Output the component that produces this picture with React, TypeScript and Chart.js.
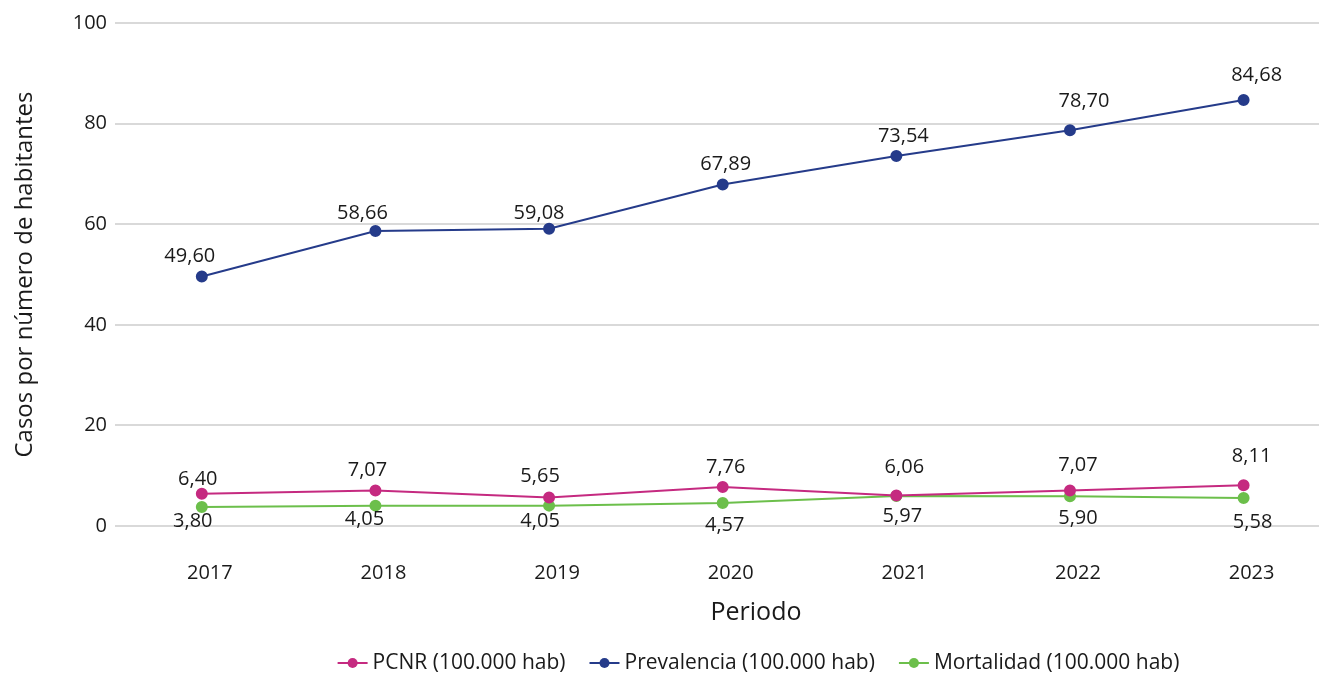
import React, { useEffect, useRef } from "react";
import { Chart, registerables } from "chart.js";

Chart.register(...registerables);

const years = ["2017", "2018", "2019", "2020", "2021", "2022", "2023"];
const pcnr = [6.4, 7.07, 5.65, 7.76, 6.06, 7.07, 8.11];
const prevalencia = [49.6, 58.66, 59.08, 67.89, 73.54, 78.7, 84.68];
const mortalidad = [3.8, 4.05, 4.05, 4.57, 5.97, 5.9, 5.58];
const seriesNames = ["PCNR (100.000 hab)", "Prevalencia (100.000 hab)", "Mortalidad (100.000 hab)"];
const yTicks = [0, 20, 40, 60, 80, 100];
const xTitle = "Periodo";
const yTitle = "Casos por número de habitantes";

const COLORS = ["#C52A80", "#253B8A", "#6CBF4B"];
// label nudges (style only): [dx, dy] per point
const LABEL_NUDGE = [
  [[-4, -15], [-8, -20], [-9, -21], [3, -20], [8, -28], [8, -25], [8, -29]],
  [[-12, -20], [-13, -18], [-10, -16], [3, -20], [7, -20], [14, -29], [13, -25]],
  [[-9, 14], [-11, 14], [-9, 16], [2, 22], [6, 20], [8, 22], [9, 24]],
];
const FONT = "'Open Sans', 'Noto Sans', sans-serif";

const dataLabelPlugin = {
  id: "dataLabels",
  afterDatasetsDraw(chart: any) {
    const ctx = chart.ctx;
    ctx.save();
    ctx.font = `20px ${FONT}`;
    ctx.fillStyle = "#1a1a1a";
    ctx.textAlign = "center";
    ctx.textBaseline = "middle";
    chart.data.datasets.forEach((ds: any, di: number) => {
      const meta = chart.getDatasetMeta(di);
      meta.data.forEach((pt: any, i: number) => {
        const v = ds.data[i].y as number;
        const txt = v.toFixed(2).replace(".", ",");
        const [dx, dy] = LABEL_NUDGE[di][i];
        ctx.fillText(txt, pt.x + dx, pt.y + dy);
      });
    });
    ctx.restore();
  },
};

const legendPlugin = {
  id: "customLegend",
  afterDraw(chart: any) {
    const ctx = chart.ctx;
    ctx.save();
    // x-axis title
    ctx.font = `25px ${FONT}`;
    ctx.fillStyle = "#1a1a1a";
    ctx.textAlign = "center";
    ctx.textBaseline = "middle";
    ctx.fillText(xTitle, 756, 613);

    ctx.font = `21px ${FONT}`;
    ctx.textAlign = "left";
    const lineLen = 30;
    const textGap = 5;
    const itemGap = 24;
    const widths = chart.data.datasets.map((ds: any) => ctx.measureText(ds.label).width);
    const total =
      widths.reduce((a: number, w: number) => a + w + lineLen + textGap, 0) + itemGap * (widths.length - 1);
    let x = 758.5 - total / 2;
    const y = 663;
    chart.data.datasets.forEach((ds: any, i: number) => {
      const color = ds.borderColor;
      ctx.strokeStyle = color;
      ctx.lineWidth = 2;
      ctx.beginPath();
      ctx.moveTo(x, y);
      ctx.lineTo(x + lineLen, y);
      ctx.stroke();
      ctx.fillStyle = color;
      ctx.beginPath();
      ctx.arc(x + lineLen / 2, y, 5, 0, Math.PI * 2);
      ctx.fill();
      ctx.fillStyle = "#1a1a1a";
      ctx.fillText(ds.label, x + lineLen + textGap, y);
      x += lineLen + textGap + widths[i] + itemGap;
    });
    ctx.restore();
  },
};

export default function App() {
  const ref = useRef<HTMLCanvasElement | null>(null);

  useEffect(() => {
    if (!ref.current) return;
    const allSeries = [pcnr, prevalencia, mortalidad];
    const chart = new Chart(ref.current, {
      type: "line",
      data: {
        datasets: allSeries.map((s, di) => ({
          label: seriesNames[di],
          data: s.map((v, i) => ({ x: i, y: v })),
          borderColor: COLORS[di],
          backgroundColor: COLORS[di],
          pointBackgroundColor: COLORS[di],
          pointBorderColor: COLORS[di],
          borderWidth: 2,
          pointRadius: 5,
          tension: 0,
          fill: false,
        })),
      },
      options: {
        responsive: false,
        animation: false,
        layout: { padding: { top: 23, left: 0, right: 0, bottom: 34 } },
        plugins: {
          tooltip: { enabled: false },
          legend: { display: false },
        },
        scales: {
          x: {
            type: "linear",
            min: -0.5,
            max: 6.44,
            afterBuildTicks(scale: any) {
              scale.ticks = years.map((_, i) => ({ value: i }));
            },
            afterFit(scale: any) {
              scale.height = 115;
            },
            grid: { display: false, drawTicks: false },
            border: { display: false },
            ticks: {
              padding: 35,
              labelOffset: 8,
              color: "#1a1a1a",
              font: { family: FONT, size: 20 },
              callback: (v: any) => years[Math.round(Number(v))] ?? "",
            },
            title: { display: false },
          },
          y: {
            min: 0,
            max: 100,
            afterBuildTicks(scale: any) {
              scale.ticks = yTicks.map((v) => ({ value: v }));
            },
            afterFit(scale: any) {
              scale.width = 115;
            },
            grid: { color: "#D9D9D9", lineWidth: 2, drawTicks: false },
            border: { display: false },
            ticks: {
              padding: 8,
              color: "#1a1a1a",
              font: { family: FONT, size: 20 },
            },
            title: {
              display: true,
              text: yTitle,
              color: "#1a1a1a",
              font: { family: FONT, size: 24 },
              padding: { top: 11, bottom: 0 },
            },
          },
        },
      } as any,
      plugins: [dataLabelPlugin, legendPlugin],
    });
    return () => chart.destroy();
  }, []);

  return (
    <div
      style={{
        position: "absolute",
        left: 0,
        top: 0,
        width: 1319,
        height: 675,
        overflow: "hidden",
        background: "#fff",
      }}
    >
      <canvas ref={ref} width={1327} height={675} style={{ display: "block" }} />
    </div>
  );
}
